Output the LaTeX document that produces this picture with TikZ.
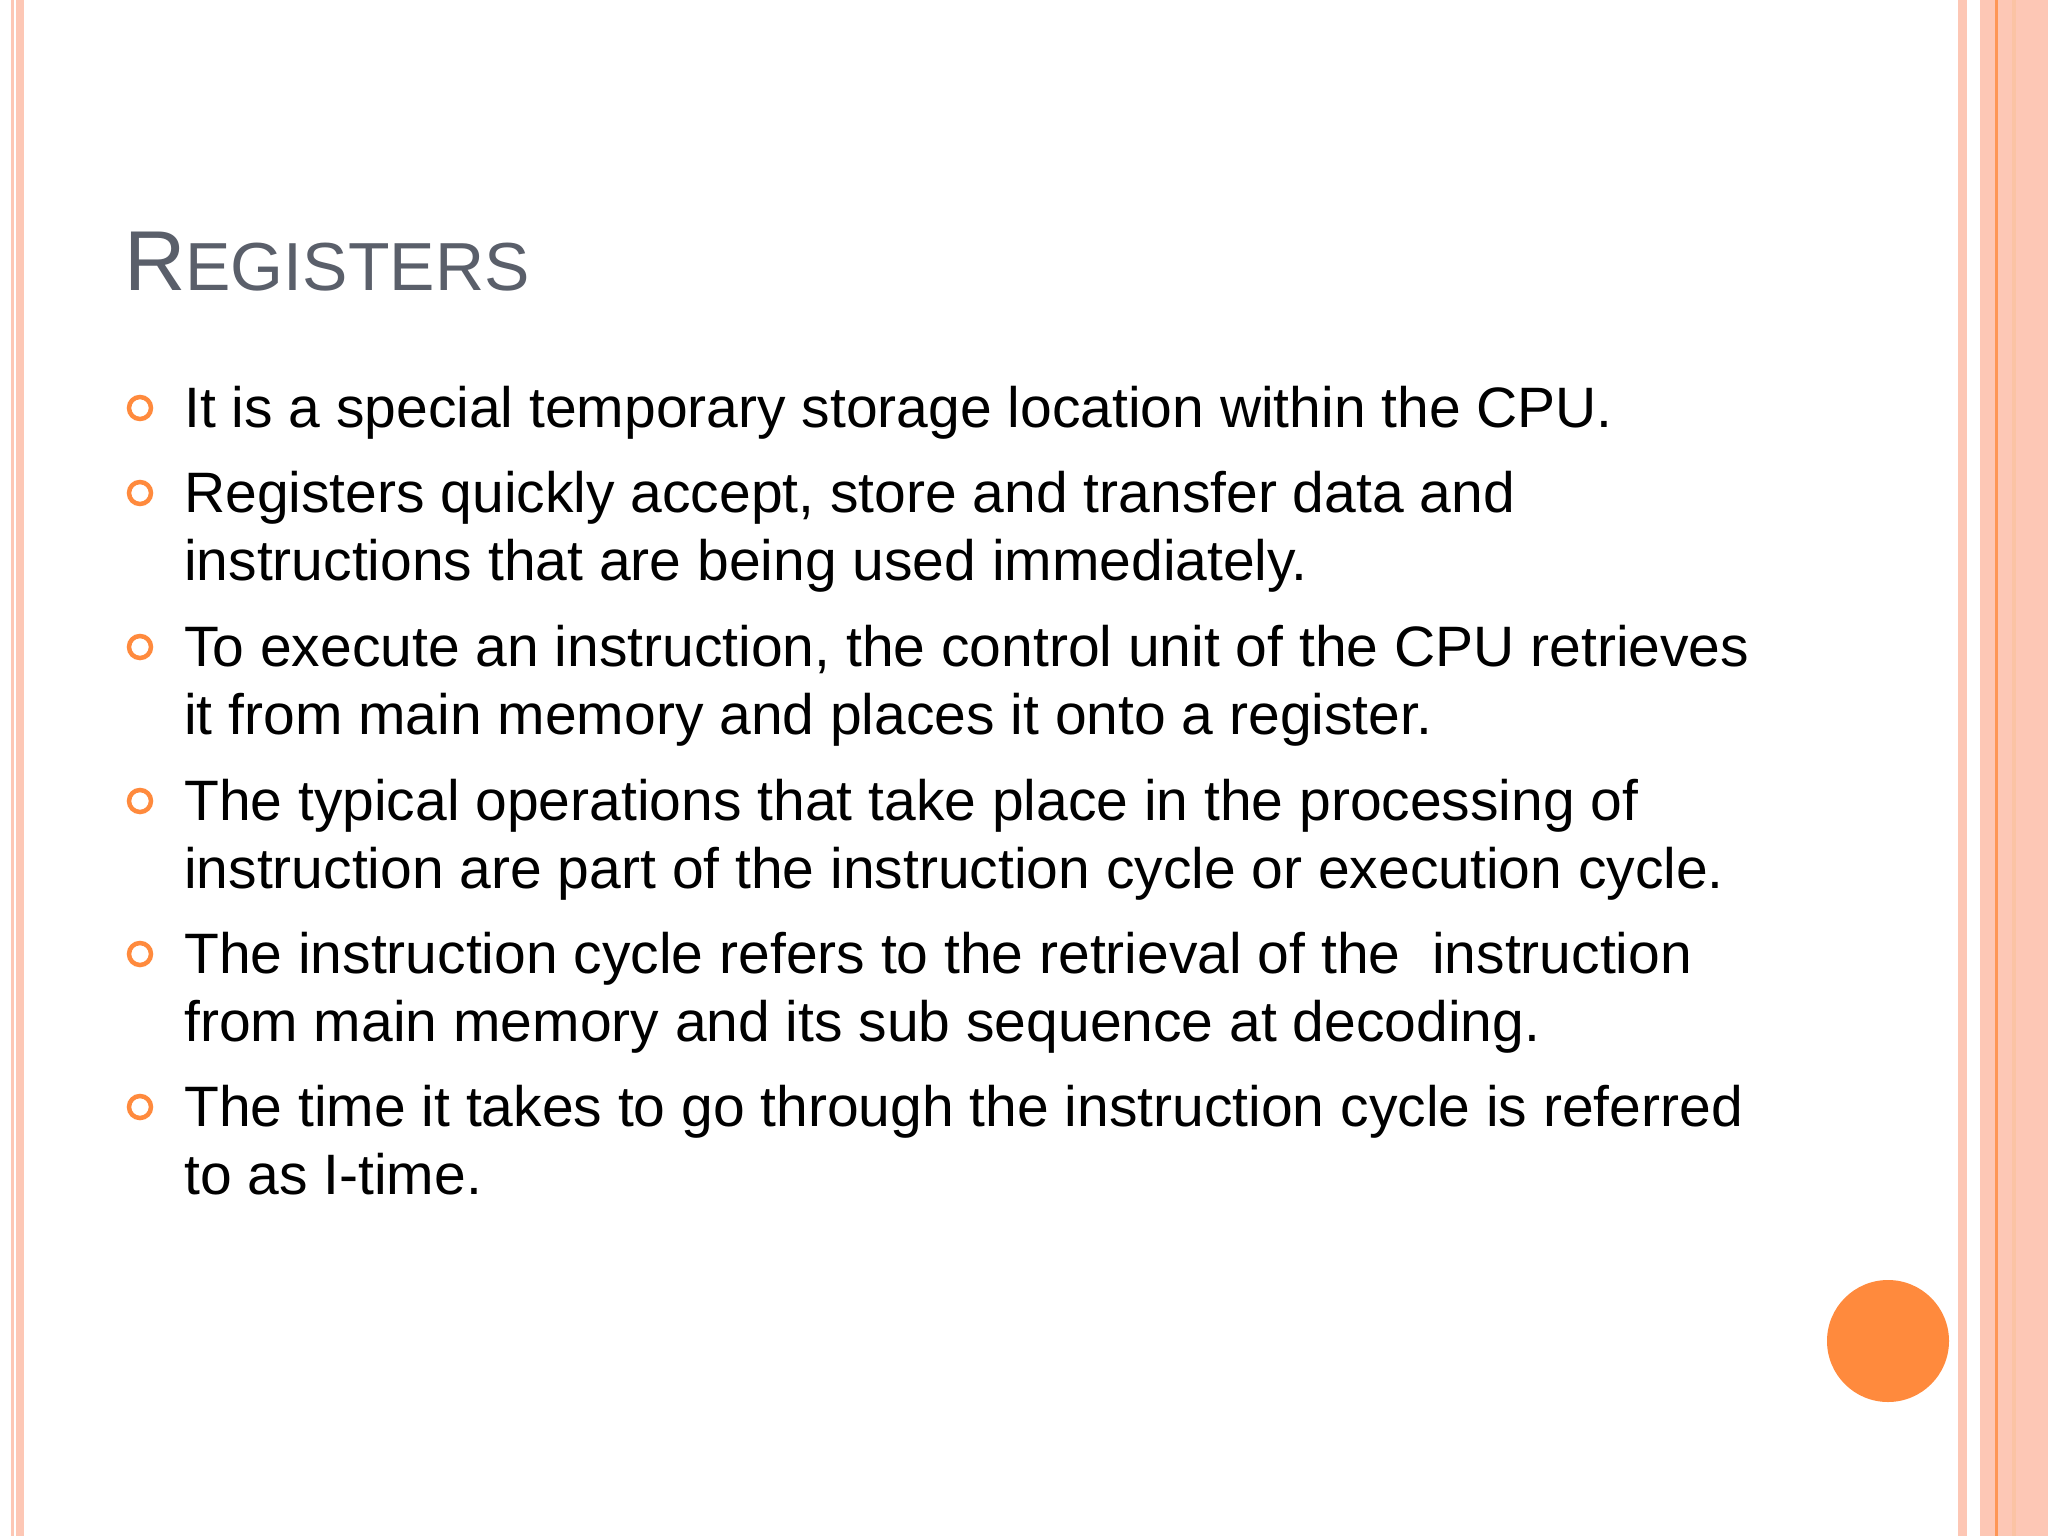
\documentclass[tikz,border=0pt]{standalone}
\usepackage{fontspec}
\setmainfont{Liberation Sans}
\definecolor{stripe}{HTML}{FDC7B5}
\definecolor{peach}{HTML}{FBCBB6}
\definecolor{orangeb}{HTML}{FF8A3D}
\definecolor{titlec}{HTML}{5A5F6A}
\begin{document}
\begin{tikzpicture}[x=1bp,y=-1bp,
  body/.style={anchor=base west,inner sep=0pt,font=\fontsize{57bp}{68bp}\selectfont,text=black},
  bul/.style={circle,draw=orangeb,line width=4.5bp,minimum size=22bp,inner sep=0pt}]
\useasboundingbox (0,0) rectangle (2048,1536);
\fill[white] (0,0) rectangle (2048,1536);
% left stripes
\fill[stripe] (11,0) rectangle (14,1536);
\fill[stripe] (16,0) rectangle (24,1536);
% right stripes
\fill[stripe] (1958,0) rectangle (1967,1536);
\fill[stripe] (1980,0) rectangle (2048,1536);
\fill[peach!90!orange] (2012,0) rectangle (2016,1536);
\fill[orangeb!80!stripe] (1995,0) rectangle (1998,1536);
% title
\node[anchor=base west,inner sep=0pt,text=titlec] (title) at (124,290)
  {\fontsize{85bp}{90bp}\selectfont R\fontsize{68bp}{72bp}\selectfont EGISTERS};
% bullets
\foreach \n/\y in {1/427,2/512,3/666,4/820,5/973,6/1126}
  \node[bul] (b\n) at (140,\y-19) {};
\node[body] (l1) at (184,427) {It is a special temporary storage location within the CPU.};
\node[body] (l2) at (184,512) {Registers quickly accept, store and transfer data and};
\node[body] (l3) at (184,580) {instructions that are being used immediately.};
\node[body] (l4) at (184,666) {To execute an instruction, the control unit of the CPU retrieves};
\node[body] (l5) at (184,734) {it from main memory and places it onto a register.};
\node[body] (l6) at (184,820) {The typical operations that take place in the processing of};
\node[body] (l7) at (184,888) {instruction are part of the instruction cycle or execution cycle.};
\node[body] (l8) at (184,973) {The instruction cycle refers to the retrieval of the\ \ instruction};
\node[body] (l9) at (184,1041) {from main memory and its sub sequence at decoding.};
\node[body] (l10) at (184,1126) {The time it takes to go through the instruction cycle is referred};
\node[body] (l11) at (184,1194) {to as I-time.};
% orange dot
\fill[orangeb] (1888,1341) circle (61);
\end{tikzpicture}
\end{document}
